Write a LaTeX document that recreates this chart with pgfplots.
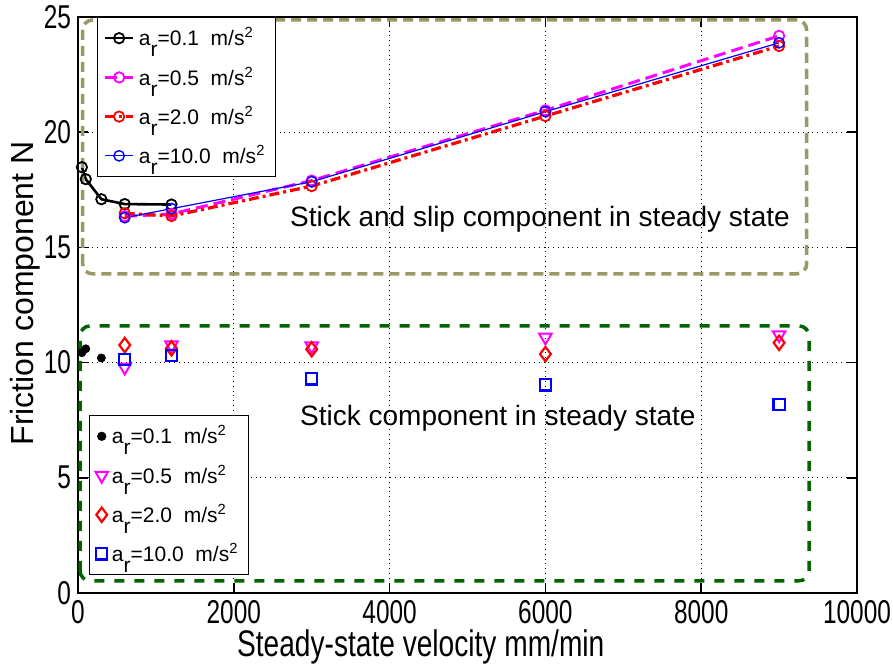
\documentclass[border=0pt]{standalone}
\usepackage{fontspec}
\setmainfont{Liberation Sans}
\newfontfamily\narrowfont[FakeStretch=0.74]{Liberation Sans}
\newfontfamily\labelfont[FakeStretch=0.76]{Liberation Sans}
\usepackage{pgfplots}
\pgfplotsset{compat=1.18}
\definecolor{olivebox}{RGB}{153,153,102}
\definecolor{darkgreen}{RGB}{0,100,0}
\definecolor{mag}{RGB}{255,0,255}
\newcommand{\ar}[1]{a\raisebox{-1.0ex}{r}=#1\ \ m/s\textsuperscript{2}}
\begin{document}
\begin{tikzpicture}
\useasboundingbox (-39pt,-37.5pt) rectangle (407.5pt,296.5pt);
\pgfplotsset{common/.style={width=389.5pt, height=288pt, scale only axis,
  xmin=0, xmax=10000, ymin=0, ymax=25}}
\begin{axis}[common,
  axis line style={line width=1.3pt},
  xtick={0,2000,...,10000}, ytick={0,5,...,25},
  tick align=inside, tick style={black, line width=0.8pt}, major tick length=5pt,
  grid=major, grid style={dotted, black, line width=0.5pt},
  scaled x ticks=false,
  /pgf/number format/1000 sep={},
  /pgf/number format/assume math mode=true,
  ticklabel style={font=\narrowfont\fontsize{16.5}{18}\selectfont},
  xlabel={Steady-state velocity mm/min},
  xlabel style={font=\labelfont\fontsize{18.5}{20}\selectfont, at={(axis description cs:0.44,-0.093)}, anchor=center},
  ylabel={Friction component N},
  ylabel style={font=\fontsize{16}{18}\selectfont, at={(axis description cs:-0.068,0.52)}, anchor=center, rotate=0},
  legend style={at={(rel axis cs:0.024,1)}, anchor=north west, draw=black, line width=0.6pt,
    fill=white, font=\fontsize{10.5}{12}\selectfont, row sep=5pt, inner sep=3pt, cells={anchor=west}},
  legend image code/.code={\draw[mark repeat=2, mark phase=2] plot coordinates {(0cm,0cm) (0.25cm,0cm) (0.5cm,0cm)};},
]
\addplot[black, line width=1.3pt, mark=o, mark size=2.6pt, mark options={solid, fill=white, line width=0.9pt}]
  coordinates {(50,18.48) (100,17.96) (300,17.09) (600,16.88) (1200,16.86)};
\addlegendentry{\ar{0.1}}
\addplot[mag, line width=1.5pt, dash pattern=on 6pt off 3pt, mark=o, mark size=2.6pt, mark options={solid, fill=white, line width=0.9pt}]
  coordinates {(600,16.35) (1200,16.45) (3000,17.9) (6000,20.95) (9000,24.18)};
\addlegendentry{\ar{0.5}}
\addplot[red, line width=1.6pt, dash pattern=on 5pt off 2pt on 1.5pt off 2pt, mark=o, mark size=2.6pt, mark options={solid, fill=white, line width=0.9pt}]
  coordinates {(600,16.48) (1200,16.36) (3000,17.66) (6000,20.7) (9000,23.74)};
\addlegendentry{\ar{2.0}}
\addplot[blue, line width=0.6pt, mark=o, mark size=2.6pt, mark options={solid, fill=white, line width=0.7pt}]
  coordinates {(600,16.29) (1200,16.68) (3000,17.85) (6000,20.89) (9000,23.88)};
\addlegendentry{\ar{10.0}}
\node[font=\fontsize{14}{16}\selectfont] at (axis cs:5930,16.2) {Stick and slip component in steady state};
\node[font=\fontsize{14}{16}\selectfont] at (axis cs:5390,7.6) {Stick component in steady state};
\draw[olivebox, line width=1.75pt, dash pattern=on 5pt off 3pt, rounded corners=5pt]
  (axis cs:60,13.85) rectangle (axis cs:9354,24.87);
\draw[darkgreen, line width=1.75pt, dash pattern=on 5pt off 5pt, rounded corners=5pt]
  (axis cs:26,0.53) rectangle (axis cs:9384,11.59);
\end{axis}
\begin{axis}[common, hide axis,
  legend style={at={(rel axis cs:0.014,0.031)}, anchor=south west, draw=black, line width=0.6pt,
    fill=white, font=\fontsize{10.5}{12}\selectfont, row sep=5pt, inner sep=3pt, cells={anchor=west}},
]
\addplot[only marks, black, mark=*, mark size=2pt]
  coordinates {(50,10.43) (100,10.6) (300,10.2)};
\addlegendentry{\ar{0.1}}
\addplot[only marks, mag, mark=triangle, mark size=3.6pt, mark options={rotate=180, line width=1pt}]
  coordinates {(600,9.8) (1200,10.76) (3000,10.72) (6000,11.1) (9000,11.2)};
\addlegendentry{\ar{0.5}}
\addplot[only marks, red, mark=diamond, mark size=3.6pt, mark options={line width=1.1pt}]
  coordinates {(600,10.76) (1200,10.62) (3000,10.58) (6000,10.37) (9000,10.86)};
\addlegendentry{\ar{2.0}}
\addplot[only marks, blue, mark=square, mark size=2.8pt, mark options={line width=1.1pt}]
  coordinates {(600,10.14) (1200,10.3) (3000,9.29) (6000,9.03) (9000,8.19)};
\addlegendentry{\ar{10.0}}
\end{axis}
\end{tikzpicture}
\end{document}
